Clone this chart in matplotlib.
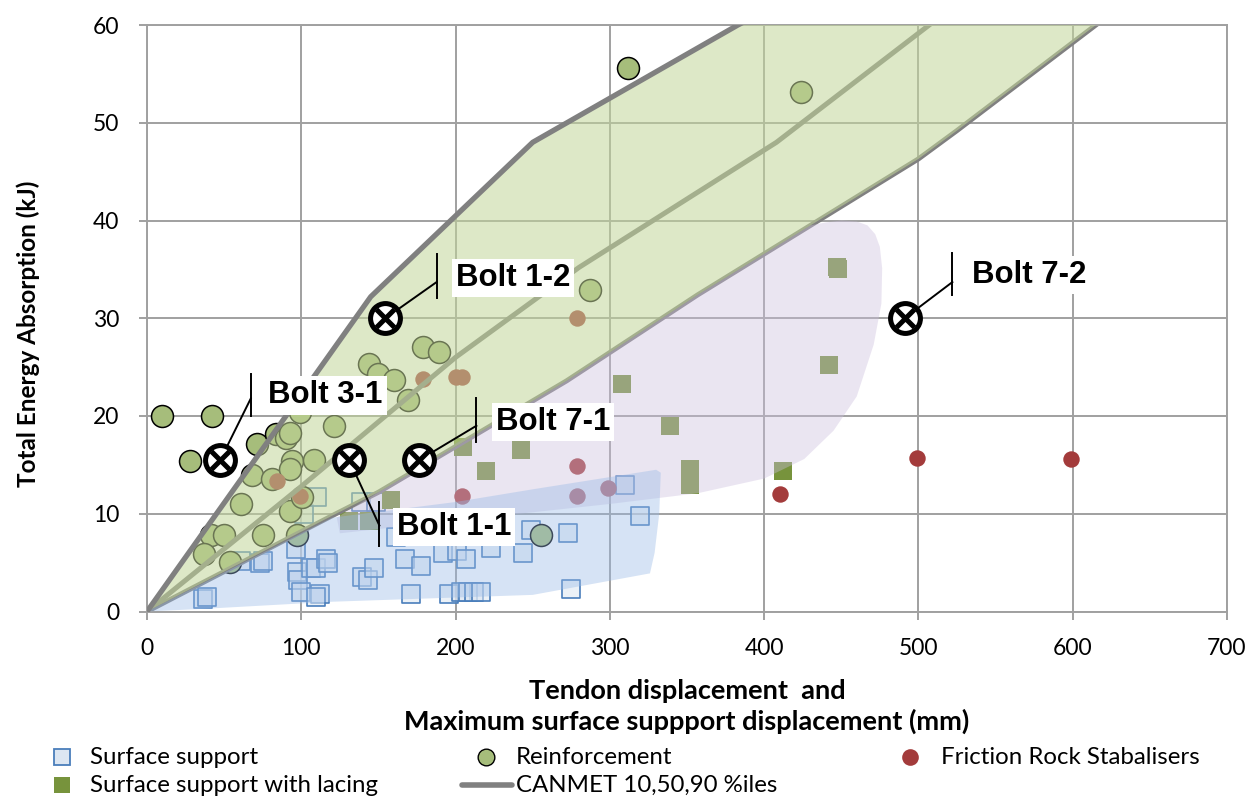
import matplotlib
matplotlib.use("Agg")
import matplotlib.pyplot as plt
from matplotlib.lines import Line2D
from matplotlib.patches import Polygon

# ---------------- data ----------------
surf_x = [36, 39, 61, 73, 75, 96.5, 102, 110, 97.5, 98, 100, 106, 109.5, 116, 117, 112, 109.5,
          139.6, 143, 147.4, 161.5, 167, 177.7, 171, 191.7, 196, 201, 207, 203.7, 208, 212, 216.7,
          223, 243.5, 138.7, 148.5, 249, 273, 274.5, 309.7, 319.5]
surf_y = [1.3, 1.5, 5.2, 5.0, 5.2, 6.4, 10.0, 11.7, 4.0, 3.2, 2.0, 4.5, 4.4, 5.4, 5.0, 1.8, 1.5,
          3.5, 3.2, 4.4, 7.6, 5.4, 4.7, 1.8, 6.0, 1.8, 6.2, 5.4, 2.0, 2.0, 2.0, 2.0,
          6.5, 6.0, 11.2, 11.2, 8.3, 8.0, 2.3, 12.9, 9.8]

lacing_x = [447, 447.8, 442, 308, 339, 352, 352, 412, 242.6, 220, 204.5, 158, 131, 144]
lacing_y = [35.2, 35.0, 25.2, 23.3, 19.0, 14.6, 12.9, 14.4, 16.5, 14.4, 16.8, 11.4, 9.3, 9.3]

reinf_x = [10, 42, 28, 312, 424, 287, 144, 150, 160, 179, 189, 169, 121, 99, 71.5, 83.5, 90, 93,
           94, 108.5, 68, 81, 93, 61, 93, 100.6, 41.3, 50, 37, 54, 75, 97.4, 255.6]
reinf_y = [20, 20, 15.4, 55.6, 53.1, 32.9, 25.3, 24.3, 23.7, 27.1, 26.5, 21.6, 19.0, 20.4, 17.1,
           18.2, 17.8, 18.3, 15.4, 15.5, 14.0, 13.6, 14.6, 11.0, 10.3, 11.7, 7.8, 7.8, 5.9, 5.1,
           7.8, 7.8, 7.8]

fric_x = [279, 179, 200, 204, 84, 99, 204, 279, 279, 299, 410, 499, 599]
fric_y = [30, 23.8, 24, 24, 13.4, 11.8, 11.8, 14.9, 11.8, 12.6, 12.0, 15.7, 15.6]

# CANMET 10, 50, 90 percentile curves
c10_x = [0, 145, 250, 383, 420]
c10_y = [0, 32.2, 48, 60, 63]
c50_x = [0, 100, 200, 280, 408, 507, 530]
c50_y = [0, 12.8, 26, 35.2, 48, 60, 62.8]
c90_x = [0, 120, 150, 272, 357, 500, 525, 615, 640]
c90_y = [0, 9.8, 12.2, 23.6, 32.4, 46.3, 49.2, 60, 63]

# shaded envelopes
purple_x = [123, 125, 200, 300, 357, 400, 426, 445, 460, 471, 476, 476.5, 475, 472, 467, 460, 450, 440, 430,
            357, 272, 150, 123]
purple_y = [9.6, 8.0, 9.3, 11.0, 12.1, 13.6, 15.6, 18.5, 22.0, 27.3, 31.5, 35.1, 37.3, 38.6, 39.5, 39.9, 40.0,
            39.8, 39.5, 32.4, 23.6, 12.2, 9.6]
blue_x = [0, 120, 150, 200, 250, 330, 333, 332, 329, 326, 250, 120, 40, 0]
blue_y = [0, 9.6, 10.2, 11.2, 12.5, 14.5, 14.2, 10, 6, 3.9, 1.7, 1.0, 0.3, 0]

# bolt test results
bolt_names = ["Bolt 1-2", "Bolt 3-1", "Bolt 1-1", "Bolt 7-1", "Bolt 7-2"]
bolt_x = [154.5, 47.5, 131, 176.5, 491]
bolt_y = [30, 15.5, 15.5, 15.5, 30]
# leader bar position and label anchor
bar_x = [187.7, 67.3, 150.6, 213.5, 522]
bar_y0 = [32.1, 20.0, 6.75, 17.3, 32.4]
bar_y1 = [36.6, 24.3, 11.2, 21.8, 36.7]
lead_y = [33.7, 21.8, 8.8, 19.0, 33.7]
lab_x = [200, 78.5, 162, 226, 534.7]
lab_y = [34.1, 22.1, 8.6, 19.4, 34.4]

xticks = [0, 100, 200, 300, 400, 500, 600, 700]
yticks = [0, 10, 20, 30, 40, 50, 60]

# ---------------- figure ----------------
W, H = 1259, 796
fig = plt.figure(figsize=(W / 100, H / 100), dpi=100)
L, R, B, T = 147, 1227, 611.5, 25
ax = fig.add_axes([L / W, 1 - B / H, (R - L) / W, (B - T) / H])

base_font = "Lato"
grid_col = "#a0a0a0"

# markers (under the translucent envelopes)
ax.scatter(surf_x, surf_y, marker="s", s=150, facecolor=(0.86, 0.90, 0.95, 0.55),
           edgecolor="#4a7ebb", linewidth=1.2, zorder=2)
ax.scatter(lacing_x, lacing_y, marker="s", s=170, color="#77933c", linewidth=0, zorder=2)
ax.scatter(reinf_x, reinf_y, marker="o", s=250, facecolor="#a6bd7b", edgecolor="black",
           linewidth=1.1, zorder=2.2)
ax.scatter(fric_x, fric_y, marker="o", s=140, color="#a33b3b", linewidth=0, zorder=2.3)

# CANMET lines (50 and 90 under green envelope)
ax.plot(c50_x, c50_y, color="#808080", lw=3.6, zorder=2.5, solid_capstyle="butt")
ax.plot(c90_x, c90_y, color="#808080", lw=3.6, zorder=2.5, solid_capstyle="butt")

# envelopes
ax.add_patch(Polygon(list(zip(purple_x, purple_y)), closed=True, facecolor=(0.80, 0.75, 0.87, 0.40),
                     edgecolor="none", zorder=3))
ax.add_patch(Polygon(list(zip(blue_x, blue_y)), closed=True, facecolor=(0.60, 0.73, 0.90, 0.40),
                     edgecolor="none", zorder=3.1))
green_pts = list(zip(c10_x, c10_y)) + list(zip(c90_x[::-1], c90_y[::-1]))
ax.add_patch(Polygon(green_pts, closed=True, facecolor=(0.76, 0.84, 0.60, 0.55),
                     edgecolor="none", zorder=3.2))

ax.plot(c10_x, c10_y, color="#808080", lw=3.8, zorder=4, solid_capstyle="butt")

# bolts
for i, name in enumerate(bolt_names):
    ax.plot([bolt_x[i], bar_x[i]], [bolt_y[i], lead_y[i]], color="black", lw=1.4, zorder=5)
    ax.plot([bar_x[i], bar_x[i]], [bar_y0[i], bar_y1[i]], color="black", lw=1.4, zorder=5)
    ax.text(lab_x[i], lab_y[i], name, family="Liberation Sans", fontweight="bold", fontsize=22.5,
            ha="left", va="center", zorder=6,
            bbox=dict(facecolor="white", edgecolor="none", pad=3))
ax.plot(bolt_x, bolt_y, "o", ms=21.5, mfc="white", mec="black", mew=3.6, zorder=7, ls="none")
ax.plot(bolt_x, bolt_y, "x", ms=13, mew=3.6, color="black", zorder=8, ls="none")

# axes cosmetics
ax.set_xlim(0, 700)
ax.set_ylim(0, 60)
ax.set_xticks(xticks)
ax.set_yticks(yticks)
ax.grid(True, color=grid_col, lw=1.4, zorder=0)
ax.set_axisbelow(True)
for s in ax.spines.values():
    s.set_color(grid_col)
    s.set_linewidth(1.4)
ax.tick_params(axis="both", direction="out", length=6, width=1.4, color=grid_col,
               labelsize=16.5)
ax.tick_params(axis="x", pad=13)
ax.tick_params(axis="y", pad=14)
for lab in ax.get_xticklabels() + ax.get_yticklabels():
    lab.set_family(base_font)

ax.set_xlabel("Tendon displacement  and\nMaximum surface suppport displacement (mm)",
              family=base_font, fontweight="bold", fontsize=19.5, linespacing=1.3)
ax.xaxis.set_label_coords(0.5, -0.1145)
ax.set_ylabel("Total Energy Absorption (kJ)", family=base_font, fontweight="bold", fontsize=17.5,
              va="center")
ax.yaxis.set_label_coords((28 - L) / (R - L), (B - 334) / (B - T))

# legend (manual, figure pixel coordinates)
def fx(px):
    return px / W

def fy(py):
    return 1 - py / H

leg_font = dict(family=base_font, fontsize=17.3, va="center", ha="left")
r1, r2 = 757, 785
fig.add_artist(Line2D([fx(62)], [fy(r1)], marker="s", ms=12, mfc="#dce6f2", mec="#4a7ebb", mew=1.3,
                      transform=fig.transFigure))
fig.text(fx(90), fy(r1), "Surface support", **leg_font)
fig.add_artist(Line2D([fx(486)], [fy(r1)], marker="o", ms=12, mfc="#a6bd7b", mec="black", mew=1.0,
                      transform=fig.transFigure))
fig.text(fx(516), fy(r1), "Reinforcement", **leg_font)
fig.add_artist(Line2D([fx(910)], [fy(r1)], marker="o", ms=12, mfc="#a33b3b", mec="#a33b3b", mew=0,
                      transform=fig.transFigure))
fig.text(fx(941), fy(r1), "Friction Rock Stabalisers", **leg_font)
fig.add_artist(Line2D([fx(62)], [fy(r2)], marker="s", ms=12, mfc="#77933c", mec="#77933c", mew=0,
                      transform=fig.transFigure))
fig.text(fx(90), fy(r2), "Surface support with lacing", **leg_font)
fig.add_artist(Line2D([fx(462), fx(512)], [fy(r2), fy(r2)], color="#808080", lw=4,
                      solid_capstyle="round", transform=fig.transFigure))
fig.text(fx(516), fy(r2), "CANMET 10,50,90 %iles", **leg_font)

fig.savefig("out.png", dpi=100)
